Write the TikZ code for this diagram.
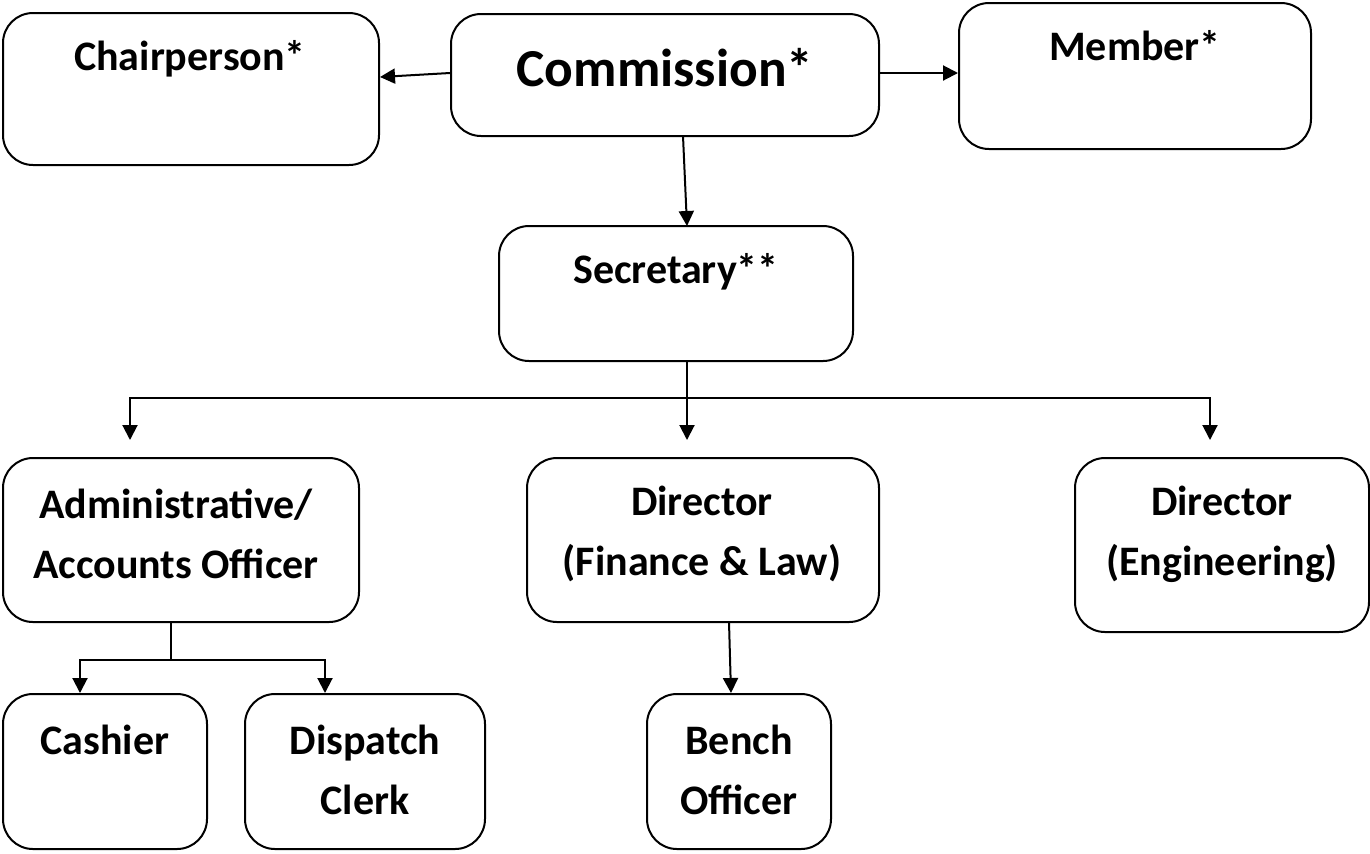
\documentclass[tikz,border=0pt]{standalone}
\usepackage{fontspec}
\setmainfont{Carlito}
\usetikzlibrary{arrows.meta}
\begin{document}
\begin{tikzpicture}[x=0.5pt,y=-0.5pt,
  box/.style={draw, line width=1pt, rounded corners=15pt, inner sep=0pt},
  lbl/.style={font=\fontsize{21}{30}\selectfont\bfseries, align=center, inner sep=0pt},
  big/.style={font=\fontsize{26.7}{30}\selectfont\bfseries, inner sep=0pt},
  arr/.style={line width=1pt, -{Triangle[length=7.5pt,width=7.5pt]}},
  ln/.style={line width=1pt}]
\useasboundingbox (0,0) rectangle (1370,853);
% boxes
\node[box, minimum width=188pt, minimum height=76pt] (chair) at (191,89) {};
\node[box, minimum width=214pt, minimum height=61pt] (comm) at (665,75) {};
\node[box, minimum width=176pt, minimum height=73pt] (memb) at (1135,76) {};
\node[box, minimum width=177pt, minimum height=67.5pt] (secr) at (676,293.5) {};
\node[box, minimum width=178pt, minimum height=82pt] (admin) at (181,540) {};
\node[box, minimum width=176pt, minimum height=82pt] (dfin) at (703,540) {};
\node[box, minimum width=147pt, minimum height=87pt] (deng) at (1222,545) {};
\node[box, minimum width=102pt, minimum height=77.5pt] (cash) at (105,771.5) {};
\node[box, minimum width=120pt, minimum height=77.5pt] (disp) at (365,771.5) {};
\node[box, minimum width=92pt, minimum height=77.5pt] (bench) at (739,771.5) {};
% texts
\node[lbl, anchor=base] (tchair) at (190,70) {Chairperson*};
\node[big, anchor=base] (tcomm) at (665,86) {Commission*};
\node[lbl, anchor=base] (tmemb) at (1135,60) {Member*};
\node[lbl, anchor=base] (tsecr) at (676,283) {Secretary**};
\node[lbl] (tadmin) at (176,534) {Administrative/\\Accounts Officer};
\node[lbl] (tdfin) at (702,534) {Director\\(Finance \& Law)};
\node[lbl] (tdeng) at (1222,534) {Director\\(Engineering)};
\node[lbl, anchor=base] (tcash) at (105,754) {Cashier};
\node[lbl] (tdisp) at (365,770) {Dispatch\\Clerk};
\node[lbl] (tbench) at (739,770) {Bench\\Officer};
% connectors
\coordinate (sb) at (687,398);
\coordinate (ab) at (171,660);
\draw[arr] (comm.west |- 0,73) -- (chair.east |- 0,77);
\draw[arr] (comm.east |- 0,73) -- (memb.west |- 0,73);
\draw[arr] (683,136) -- (687,226);
\draw[ln] (secr.south -| sb) -- (sb);
\draw[arr] (sb) -| (130,440);
\draw[arr] (sb) -| (1210,440);
\draw[arr] (sb) -- (687,440);
\draw[ln] (admin.south -| ab) -- (ab);
\draw[arr] (ab) -| (cash.north -| 80,0);
\draw[arr] (ab) -| (disp.north -| 325,0);
\draw[arr] (729,622) -- (bench.north -| 731,0);
\end{tikzpicture}
\end{document}
